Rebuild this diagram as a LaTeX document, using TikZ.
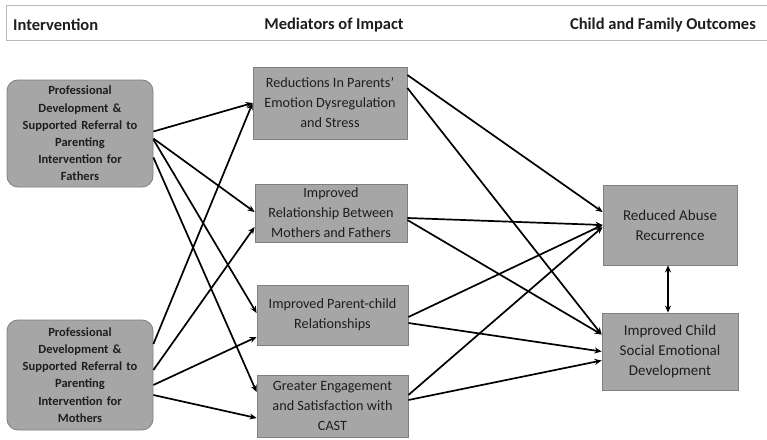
\documentclass[tikz,border=0pt]{standalone}
\usepackage{fontspec}
\setmainfont{Carlito}
\usetikzlibrary{arrows.meta,calc}
\definecolor{boxfill}{HTML}{A6A6A6}
\definecolor{boxline}{HTML}{7F7F7F}
\definecolor{txt}{HTML}{1E1E1E}
\tikzset{
  interv/.style={draw=boxline, fill=boxfill, rounded corners=11pt, line width=0.8pt,
    minimum width=146pt, text width=144pt, align=center, inner sep=0pt,
    font=\fontsize{12.5}{17.2}\selectfont\bfseries, text=txt},
  medbox/.style={draw=boxline, fill=boxfill, line width=0.8pt, inner sep=0pt,
    align=center, font=\fontsize{14.2}{20}\selectfont, text=txt},
  outbox/.style={medbox, font=\fontsize{15}{20}\selectfont},
  hdrtxt/.style={font=\fontsize{16.5}{18}\selectfont\bfseries, text=txt, inner sep=0pt},
  conn/.style={line width=1.7pt, -{Stealth[length=7pt,width=6pt]}},
  dconn/.style={line width=1.7pt, {Stealth[length=7pt,width=6pt]}-{Stealth[length=7pt,width=6pt]}}
}
\begin{document}
\begin{tikzpicture}[x=1pt,y=-1pt]
\useasboundingbox (0,0) rectangle (767,439);
\fill[white] (0,0) rectangle (767,439);
% header
\draw[draw=gray!55, line width=1pt] (6,5) rectangle (775,40);
\node[hdrtxt, anchor=west] (h1) at (13,25) {Intervention};
\node[hdrtxt] (h2) at (334,25) {Mediators of Impact};
\node[hdrtxt, anchor=east] (h3) at (756,25) {Child and Family Outcomes};
% intervention boxes
\node[interv, minimum height=107pt] (f) at (80,133.5) {Professional\\Development \&\\Supported Referral to\\Parenting\\Intervention for\\Fathers};
\node[interv, minimum height=110pt] (m) at (80,375) {Professional\\Development \&\\Supported Referral to\\Parenting\\Intervention for\\Mothers};
% mediators
\node[medbox, minimum width=154pt, minimum height=72pt] (m1) at (330,103) {Reductions In Parents'\\Emotion Dysregulation\\and Stress};
\node[medbox, minimum width=152pt, minimum height=58pt] (m2) at (331,213) {Improved\\Relationship Between\\Mothers and Fathers};
\node[medbox, minimum width=151pt, minimum height=60pt] (m3) at (332.5,315) {Improved Parent-child\\Relationships};
\node[medbox, minimum width=151pt, minimum height=62pt] (m4) at (332.5,406) {Greater Engagement\\and Satisfaction with\\CAST};
% outcomes
\node[outbox, minimum width=134pt, minimum height=80pt] (oa) at (670,225) {Reduced Abuse\\Recurrence};
\node[outbox, minimum width=136pt, minimum height=77pt] (ob) at (670,351.5) {Improved Child\\Social Emotional\\Development};
% intervention -> mediators
\draw[conn] ($(f.east)+(0,-2)$) -- (m1.west);
\draw[conn] ($(f.east)+(0,5)$) -- ($(m2.west)+(0,-1)$);
\draw[conn] ($(f.east)+(0,6)$) -- ($(m3.west)+(0,-2)$);
\draw[conn] ($(f.east)+(0,24)$) -- ($(m4.west)+(0,-14)$);
\draw[conn] ($(m.east)+(0,-31)$) -- (m1.west);
\draw[conn] ($(m.east)+(0,-5)$) -- ($(m2.west)+(0,14)$);
\draw[conn] ($(m.east)+(0,10)$) -- ($(m3.west)+(0,22)$);
\draw[conn] ($(m.east)+(0,20)$) -- ($(m4.west)+(0,12)$);
% mediators -> outcomes
\draw[conn] ($(m1.east)+(0,-28)$) -- ($(oa.west)+(0,-13)$);
\draw[conn] ($(m1.east)+(0,-15)$) -- ($(ob.west)+(0,-17)$);
\draw[conn] ($(m2.east)+(0,5)$) -- (oa.west);
\draw[conn] ($(m2.east)+(0,7)$) -- ($(ob.west)+(0,-17)$);
\draw[conn] ($(m3.east)+(0,2)$) -- (oa.west);
\draw[conn] ($(m3.east)+(0,8)$) -- ($(ob.west)+(0,0)$);
\draw[conn] ($(m4.east)+(0,-11)$) -- ($(oa.west)+(0,2)$);
\draw[conn] ($(m4.east)+(0,-6)$) -- ($(ob.west)+(0,9)$);
% outcome link
\draw[dconn] ($(oa.south)+(-2,0)$) -- ($(ob.north)+(-2,0)$);
\end{tikzpicture}
\end{document}
